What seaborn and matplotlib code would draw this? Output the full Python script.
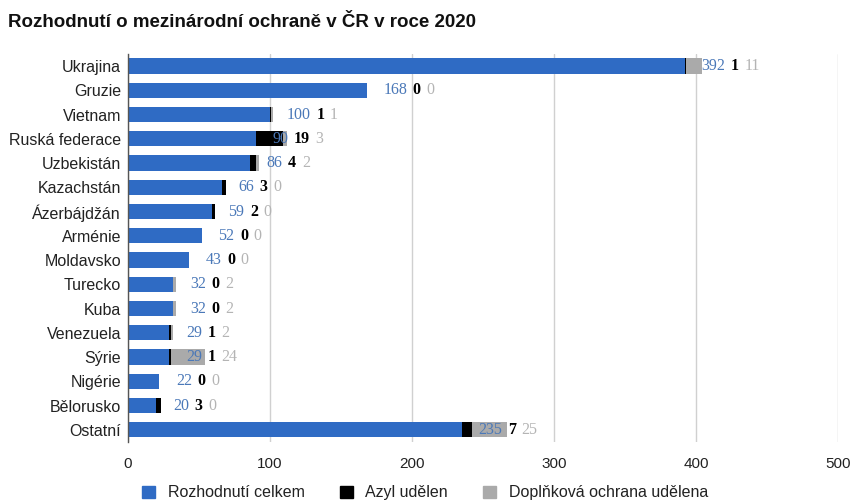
import seaborn as sns
import matplotlib.pyplot as plt
import matplotlib.patches as mpatches
import pandas as pd

countries = ['Ukrajina', 'Gruzie', 'Vietnam', 'Ruská federace', 'Uzbekistán', 'Kazachstán',
             'Ázerbájdžán', 'Arménie', 'Moldavsko', 'Turecko', 'Kuba', 'Venezuela',
             'Sýrie', 'Nigérie', 'Bělorusko', 'Ostatní']
celkem = [392, 168, 100, 90, 86, 66, 59, 52, 43, 32, 32, 29, 29, 22, 20, 235]
azyl = [1, 0, 1, 19, 4, 3, 2, 0, 0, 0, 0, 1, 1, 0, 3, 7]
doplnkova = [11, 0, 1, 3, 2, 0, 0, 0, 0, 2, 2, 2, 24, 0, 0, 25]

series_names = ['Rozhodnutí celkem', 'Azyl udělen', 'Doplňková ochrana udělena']
xticks = [0, 100, 200, 300, 400, 500]

BLUE = '#2f6bc4'
BLACK = '#000000'
GRAY = '#aaaaaa'
LBL_BLUE = '#4a78b8'
LBL_GRAY = '#b4b4b4'

df = pd.DataFrame({'zeme': countries, 'celkem': celkem, 'azyl': azyl, 'dopl': doplnkova})
df['s2'] = df['celkem'] + df['azyl']
df['s3'] = df['s2'] + df['dopl']

sns.set_style('white')
plt.rcParams['font.family'] = ['Liberation Sans', 'DejaVu Sans']

fig = plt.figure(figsize=(8.5, 5.03), dpi=100)
ax = fig.add_axes([0.1506, 0.1213, 0.8353, 0.7714])

# stacked bars drawn as overlapping cumulative totals
for col, c in [('s3', GRAY), ('s2', BLACK), ('celkem', BLUE)]:
    sns.barplot(data=df, y='zeme', x=col, color=c, orient='h', width=0.63, ax=ax,
                saturation=1, linewidth=0)

ax.set_xlim(0, 500)
ax.set_ylim(len(countries) - 0.5, -0.5)
ax.set_xticks(xticks)
ax.set_xticklabels([str(t) for t in xticks], fontsize=11, color='#222222')
ax.tick_params(axis='y', labelsize=11.5, colors='#222222', length=0, pad=5)
ax.tick_params(axis='x', length=0, pad=11)
ax.set_xlabel('')
ax.set_ylabel('')
ax.xaxis.grid(True, color='#d0d0d0', linewidth=1)
ax.set_axisbelow(True)
for s in ['top', 'right', 'bottom']:
    ax.spines[s].set_visible(False)
ax.spines['left'].set_color('#555555')
ax.spines['left'].set_linewidth(1)

# value labels: blue, black, gray placed one after another
for i, row in df.iterrows():
    t1 = ax.annotate(str(row['celkem']), xy=(row['celkem'], i), xytext=(12, 0),
                     textcoords='offset points', va='center', ha='left',
                     fontsize=11.5, color=LBL_BLUE, family='Liberation Serif')
    t2 = ax.annotate(str(row['azyl']), xy=(1, 0.5), xycoords=t1, xytext=(4, 0),
                     textcoords='offset points', va='center', ha='left',
                     fontsize=11.5, color=BLACK, fontweight='bold', family='Liberation Serif')
    ax.annotate(str(row['dopl']), xy=(1, 0.5), xycoords=t2, xytext=(4, 0),
                textcoords='offset points', va='center', ha='left',
                fontsize=11.5, color=LBL_GRAY, family='Liberation Serif')

fig.text(0.009, 0.956, 'Rozhodnutí o mezinárodní ochraně v ČR v roce 2020',
         fontsize=13.5, fontweight='bold', color='#111111', va='center', ha='left')

handles = [mpatches.Patch(color=c, label=n) for c, n in zip([BLUE, BLACK, GRAY], series_names)]
fig.legend(handles=handles, loc='center', bbox_to_anchor=(0.5, 0.02), ncol=3, frameon=False,
           fontsize=11.5, handlelength=0.8, handleheight=0.8, handletextpad=0.8, columnspacing=2.2,
           labelcolor='#222222')

plt.savefig('out.png', dpi=100)
